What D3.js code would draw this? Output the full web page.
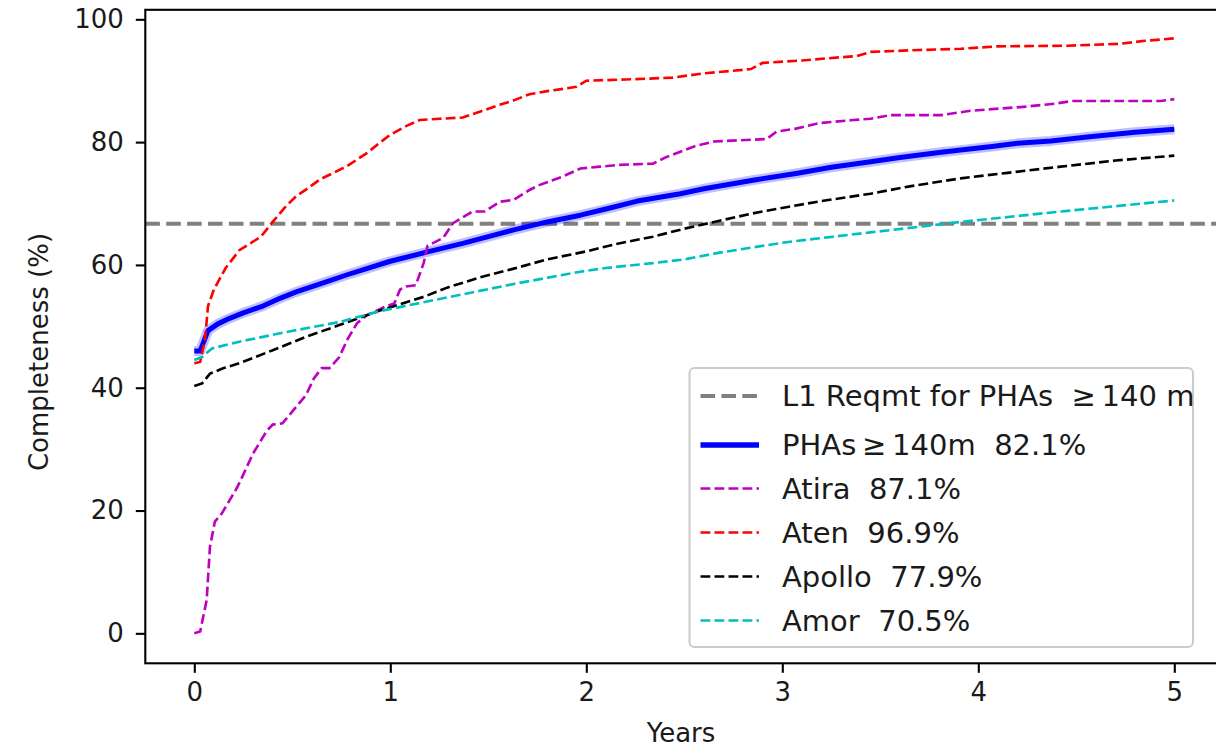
<!DOCTYPE html>
<html>
<head>
<meta charset="utf-8">
<script src="https://cdn.jsdelivr.net/npm/d3@7"></script>
<style>
  body { margin: 0; background: #fff; }
  svg { display: block; font-family: "DejaVu Sans", sans-serif; }
</style>
</head>
<body>
<div id="chart"></div>
<script>
// completeness (%) vs years
var phaPoints = [[0,46.0],[0.03,46.0],[0.07,49.3],[0.12,50.4],[0.18,51.3],[0.25,52.2],[0.35,53.3],[0.44,54.6],[0.52,55.6],[0.65,57.0],[0.78,58.4],[0.9,59.6],[1.0,60.6],[1.2,62.2],[1.37,63.5],[1.5,64.6],[1.63,65.7],[1.8,67.0],[1.97,68.1],[2.1,69.1],[2.26,70.4],[2.48,71.6],[2.6,72.4],[2.85,73.8],[3.07,74.9],[3.25,75.9],[3.45,76.8],[3.6,77.5],[3.8,78.3],[3.91,78.7],[4.07,79.3],[4.2,79.8],[4.37,80.2],[4.58,80.9],[4.8,81.6],[5.0,82.1]];
var atiraPoints = [[0,0],[0.03,0.3],[0.063,5.4],[0.08,14.1],[0.105,18.2],[0.14,19.5],[0.216,23.6],[0.233,24.7],[0.30,29.3],[0.37,33.0],[0.40,34.0],[0.45,34.2],[0.52,36.9],[0.57,38.8],[0.61,41.5],[0.65,43.2],[0.69,43.2],[0.74,45.0],[0.78,47.8],[0.83,50.5],[0.88,51.8],[0.98,53.3],[1.02,53.7],[1.05,56.0],[1.08,56.5],[1.13,56.7],[1.17,60.3],[1.19,63.1],[1.27,64.4],[1.32,66.8],[1.42,68.7],[1.48,68.7],[1.56,70.3],[1.63,70.6],[1.71,72.2],[1.76,73.0],[1.88,74.4],[1.97,75.7],[2.07,76.0],[2.17,76.3],[2.34,76.5],[2.41,77.6],[2.55,79.3],[2.65,80.1],[2.92,80.5],[2.97,81.7],[3.07,82.2],[3.19,83.1],[3.36,83.6],[3.45,83.8],[3.55,84.4],[3.81,84.4],[3.96,85.1],[4.25,85.8],[4.40,86.3],[4.48,86.7],[4.93,86.7],[5.0,87.0]];
var atenPoints = [[0,44.0],[0.03,44.2],[0.055,48.0],[0.07,53.3],[0.1,56.0],[0.16,59.5],[0.23,62.4],[0.34,64.6],[0.40,67.0],[0.46,69.3],[0.52,71.2],[0.58,72.5],[0.64,73.9],[0.71,75.0],[0.78,76.1],[0.88,78.2],[0.95,80.0],[1.0,81.2],[1.08,82.6],[1.15,83.6],[1.25,83.8],[1.37,84.0],[1.46,85.0],[1.55,86.0],[1.63,86.8],[1.71,87.8],[1.8,88.3],[1.95,89.0],[2.0,90.0],[2.2,90.2],[2.44,90.5],[2.6,91.2],[2.84,91.9],[2.9,92.9],[3.1,93.3],[3.29,93.8],[3.38,94.0],[3.45,94.7],[3.7,95.0],[3.91,95.2],[4.1,95.6],[4.45,95.7],[4.72,96.0],[4.85,96.5],[5.0,96.9]];
var apolloPoints = [[0,40.3],[0.04,40.7],[0.08,42.3],[0.15,43.2],[0.23,44.0],[0.40,46.1],[0.57,48.3],[0.74,50.2],[0.95,52.6],[1.17,54.8],[1.29,56.3],[1.45,57.9],[1.63,59.4],[1.8,60.9],[2.0,62.2],[2.15,63.4],[2.34,64.6],[2.5,65.9],[2.68,67.2],[2.85,68.4],[3.02,69.4],[3.2,70.4],[3.45,71.6],[3.65,72.8],[3.91,74.1],[4.15,75.0],[4.42,76.0],[4.7,77.0],[5.0,77.8]];
var amorPoints = [[0,44.5],[0.04,45.0],[0.09,46.4],[0.23,47.5],[0.49,49.2],[0.74,50.7],[0.95,52.5],[1.29,54.7],[1.63,56.9],[1.97,58.9],[2.1,59.5],[2.34,60.3],[2.5,60.9],[2.68,62.0],[3.02,63.7],[3.45,65.3],[3.91,67.0],[4.42,68.7],[5.0,70.5]];
var reqmtLevel = 66.7;

var xTicks = [0, 1, 2, 3, 4, 5];
var yTicks = [0, 20, 40, 60, 80, 100];

var legendLabels = [
  "L1 Reqmt for PHAs  \u2265\u2009140 m",
  "PHAs\u2009\u2265\u2009140m  82.1%",
  "Atira  87.1%",
  "Aten  96.9%",
  "Apollo  77.9%",
  "Amor  70.5%"
];

var W = 1216, H = 749;
var margin = {top: 9.8, left: 145.3, right: 1223.3, bottom: 663.3};

var svg = d3.select("#chart").append("svg")
  .attr("width", W).attr("height", H);

var x = d3.scaleLinear().domain([-0.25, 5.25]).range([margin.left, margin.right]);
var y = d3.scaleLinear().domain([-4.88, 101.55]).range([margin.bottom, margin.top]);

svg.append("clipPath").attr("id", "plotclip")
  .append("rect")
    .attr("x", margin.left).attr("y", margin.top)
    .attr("width", margin.right - margin.left)
    .attr("height", margin.bottom - margin.top);

var plot = svg.append("g").attr("clip-path", "url(#plotclip)");

var line = d3.line()
  .x(function(d) { return x(d[0]); })
  .y(function(d) { return y(d[1]); });

// requirement line
plot.append("line")
  .attr("x1", margin.left).attr("x2", margin.right)
  .attr("y1", y(reqmtLevel)).attr("y2", y(reqmtLevel))
  .style("stroke", "#808080")
  .style("stroke-width", 4)
  .style("stroke-dasharray", "14.6,6.3");

// PHA line with a soft halo
plot.append("path").datum(phaPoints)
  .attr("d", line)
  .style("fill", "none")
  .style("stroke", "#0000ff")
  .style("stroke-opacity", 0.25)
  .style("stroke-width", 10)
  .style("stroke-linejoin", "round");
plot.append("path").datum(phaPoints)
  .attr("d", line)
  .style("fill", "none")
  .style("stroke", "#0000ff")
  .style("stroke-width", 5)
  .style("stroke-linejoin", "round");

var dashed = [
  {pts: atiraPoints, color: "#bf00bf"},
  {pts: atenPoints, color: "#ff0000"},
  {pts: apolloPoints, color: "#000000"},
  {pts: amorPoints, color: "#00bfbf"}
];
dashed.forEach(function(s) {
  plot.append("path").datum(s.pts)
    .attr("d", line)
    .style("fill", "none")
    .style("stroke", s.color)
    .style("stroke-width", 2.64)
    .style("stroke-dasharray", "9.8,4.2");
});

// frame (spines)
svg.append("rect")
  .attr("x", margin.left).attr("y", margin.top)
  .attr("width", margin.right - margin.left)
  .attr("height", margin.bottom - margin.top)
  .style("fill", "none")
  .style("stroke", "#000")
  .style("stroke-width", 2.1);

// axes
var xAxis = svg.append("g")
  .attr("transform", "translate(0," + margin.bottom + ")")
  .call(d3.axisBottom(x).tickValues(xTicks).tickFormat(d3.format("d")).tickSize(9.5).tickSizeOuter(0).tickPadding(10));
var yAxis = svg.append("g")
  .attr("transform", "translate(" + margin.left + ",0)")
  .call(d3.axisLeft(y).tickValues(yTicks).tickFormat(d3.format("d")).tickSize(9.5).tickSizeOuter(0).tickPadding(12));

[xAxis, yAxis].forEach(function(a) {
  a.select(".domain").remove();
  a.selectAll(".tick line").style("stroke", "#000").style("stroke-width", 2.1);
  a.selectAll(".tick text")
    .style("font-family", "DejaVu Sans")
    .style("font-size", "26px")
    .style("fill", "#1a1a1a");
});

svg.append("text")
  .attr("x", 681).attr("y", 742)
  .attr("text-anchor", "middle")
  .style("font-size", "26px")
  .style("fill", "#1a1a1a")
  .text("Years");

svg.append("text")
  .attr("transform", "translate(48,352) rotate(-90)")
  .attr("text-anchor", "middle")
  .style("font-size", "26px")
  .style("fill", "#1a1a1a")
  .text("Completeness (%)");

// legend
var leg = svg.append("g");
leg.append("rect")
  .attr("x", 689.5).attr("y", 368)
  .attr("width", 503.5).attr("height", 279)
  .attr("rx", 5).attr("ry", 5)
  .style("fill", "#fff").style("fill-opacity", 0.8)
  .style("stroke", "#cccccc").style("stroke-width", 2.1);

var legStyles = [
  {color: "#808080", w: 4, dash: "14.6,6.3"},
  {color: "#0000ff", w: 5.5, dash: null},
  {color: "#bf00bf", w: 2.64, dash: "9.8,4.2"},
  {color: "#ff0000", w: 2.64, dash: "9.8,4.2"},
  {color: "#000000", w: 2.64, dash: "9.8,4.2"},
  {color: "#00bfbf", w: 2.64, dash: "9.8,4.2"}
];
var rowY = [396, 445, 488.5, 532.5, 576.5, 620.5];

legendLabels.forEach(function(lbl, i) {
  var st = legStyles[i];
  leg.append("line")
    .attr("x1", 700.5).attr("x2", 759)
    .attr("y1", rowY[i]).attr("y2", rowY[i])
    .style("stroke", st.color)
    .style("stroke-width", st.w)
    .style("stroke-dasharray", st.dash);
  leg.append("text")
    .attr("x", 782).attr("y", rowY[i])
    .attr("dy", "0.36em")
    .style("font-size", "29px")
    .style("fill", "#1a1a1a")
    .style("white-space", "pre")
    .text(lbl);
});
</script>
</body>
</html>
